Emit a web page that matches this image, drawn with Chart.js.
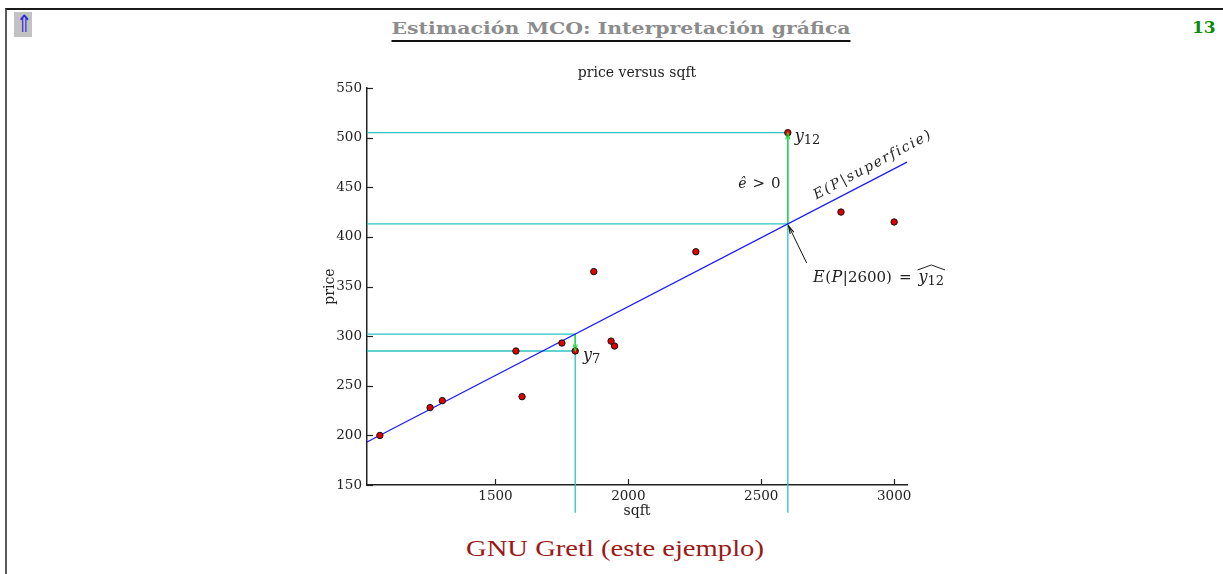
<!DOCTYPE html>
<html><head><meta charset="utf-8">
<script src="https://cdn.jsdelivr.net/npm/chart.js@4.4.1/dist/chart.umd.min.js"></script>
<style>
html,body{margin:0;padding:0;background:#fff;width:1223px;height:574px;overflow:hidden;position:relative}
#frame{position:absolute;left:5px;top:8px;width:1218px;height:566px;border-top:2px solid #1a1a1a;border-left:2px solid #5a5a5a}
#up{position:absolute;left:14px;top:12px;width:18px;height:25px;background:#c2c2c2;color:#2a2ae0;font:24px 'DejaVu Sans';line-height:25px;text-align:center;overflow:hidden}
#up span{display:inline-block;transform:scaleX(0.8)}
#title{position:absolute;left:20px;width:1203px;top:18px;text-align:center;font:bold 17px 'DejaVu Serif';color:#8c8c8c}
#title span{display:inline-block;border-bottom:2px solid #111;padding-bottom:2px;line-height:20px}
#num{position:absolute;left:1192px;top:17px;font:bold 17px 'DejaVu Serif';color:#0a8a0a}
#foot{position:absolute;left:6px;width:1217px;top:535px;text-align:center;font:24px 'Liberation Serif';color:#9a1a1a}
#foot span{display:inline-block}
#wrap{position:absolute;left:0;top:0;width:1223px;height:574px}
canvas{position:absolute;left:0;top:0}
</style></head>
<body>
<div id="frame"></div>
<div id="up"><span>⇑</span></div>
<div id="title"><span id="tspan">Estimación MCO: Interpretación gráfica</span></div>
<div id="num">13</div>
<div id="foot"><span id="fspan">GNU Gretl (este ejemplo)</span></div>
<div id="wrap"><canvas id="c" width="1223" height="574"></canvas></div>
<script>
// ---- data ----
const sqft  = [1065, 1254, 1300, 1577, 1600, 1750, 1800, 1870, 1935, 1948, 2254, 2600, 2800, 3000];
const price = [199.9, 228, 235, 285, 239, 293, 285, 365, 295, 290, 385, 505, 425, 415];
const xTicks = [1500, 2000, 2500, 3000];
const yTicks = [150, 200, 250, 300, 350, 400, 450, 500, 550];
const xRange = [1016.6, 3048.4];
const yRange = [150, 550];
const fitLine = [[1016.6, 193.4], [3048.4, 475.3]];          // E(P|superficie)
const guideH = [[505, 2600], [413.1, 2600], [302.1, 1800], [285, 1800]]; // [price, up to sqft]
const guideV = [[1800, 302.1, 122], [2600, 505, 122]];        // [sqft, from price, to price]
const residArrows = [[1800, 302.1, 285], [2600, 413.1, 505]]; // [sqft, from, to]
const pointerArrow = [[2671, 373.7], [2603, 411]];

// fit header/footer text widths to the reference
function fitWidth(id, w) { const el = document.getElementById(id); el.style.transform = 'scaleX(' + (w / el.offsetWidth) + ')'; }
fitWidth('tspan', 459); fitWidth('fspan', 298);

const cyan = '#2cc3c3', green = '#22dd33', blue = '#1a1aff';
const datasets = [{
  type: 'scatter', data: sqft.map((x, i) => ({x, y: price[i]})),
  backgroundColor: '#e00000', borderColor: '#111', borderWidth: 1, pointRadius: 3.2, order: 0
}];
datasets.push({type:'line', data: fitLine.map(p => ({x:p[0], y:p[1]})), borderColor: blue, borderWidth: 1.2, pointRadius: 0, order: 1, clip: false});
residArrows.forEach(a => datasets.push({type:'line', data:[{x:a[0],y:a[1]},{x:a[0],y:a[2]}], borderColor: green, borderWidth: 1.3, pointRadius:0, order: 2, clip:false}));
guideH.forEach(g => datasets.push({type:'line', data:[{x:xRange[0],y:g[0]},{x:g[1],y:g[0]}], borderColor: cyan, borderWidth: 1.3, pointRadius:0, order: 3, clip:false}));
guideV.forEach(g => datasets.push({type:'line', data:[{x:g[0],y:g[1]},{x:g[0],y:g[2]}], borderColor: cyan, borderWidth: 1.3, pointRadius:0, order: 3, clip:false}));

function arrowHead(ctx, x0, y0, x1, y1, color, len, ang) {
  const a = Math.atan2(y1 - y0, x1 - x0);
  ctx.save(); ctx.strokeStyle = color; ctx.lineWidth = 1.1;
  ctx.beginPath();
  ctx.moveTo(x1 - len * Math.cos(a - ang), y1 - len * Math.sin(a - ang));
  ctx.lineTo(x1, y1);
  ctx.lineTo(x1 - len * Math.cos(a + ang), y1 - len * Math.sin(a + ang));
  ctx.stroke(); ctx.restore();
}
function rich(ctx, x, y, parts) {
  ctx.save(); ctx.textBaseline = 'alphabetic'; ctx.textAlign = 'left'; ctx.fillStyle = '#222';
  let cx = x; const pos = [];
  parts.forEach(p => { ctx.font = p.f; const w = ctx.measureText(p.t).width; pos.push([cx, w]); ctx.fillText(p.t, cx, y + (p.dy || 0)); cx += w + (p.sp || 0); });
  ctx.restore(); return pos;
}
const SER = "'DejaVu Serif'";
const overlay = {
  id: 'overlay',
  afterDatasetsDraw(chart) {
    const {ctx, scales: {x, y}} = chart;
    const ca = chart.chartArea;
    // inward ticks
    ctx.save(); ctx.strokeStyle = '#222'; ctx.lineWidth = 1.2;
    xTicks.forEach(t => { const px = Math.round(x.getPixelForValue(t)) + 0.5; ctx.beginPath(); ctx.moveTo(px, ca.bottom); ctx.lineTo(px, ca.bottom - 6); ctx.stroke(); });
    yTicks.forEach(t => { const py = Math.round(y.getPixelForValue(t)) + 0.5; ctx.beginPath(); ctx.moveTo(ca.left, py); ctx.lineTo(ca.left + 6, py); ctx.stroke(); });
    ctx.restore();
    // arrow heads
    residArrows.forEach(a => arrowHead(ctx, x.getPixelForValue(a[0]), y.getPixelForValue(a[1]), x.getPixelForValue(a[0]), y.getPixelForValue(a[2]), green, 7, 0.3));
    const p0 = pointerArrow[0], p1 = pointerArrow[1];
    const ax0 = x.getPixelForValue(p0[0]), ay0 = y.getPixelForValue(p0[1]), ax1 = x.getPixelForValue(p1[0]), ay1 = y.getPixelForValue(p1[1]);
    ctx.save(); ctx.strokeStyle = '#111'; ctx.lineWidth = 1; ctx.beginPath(); ctx.moveTo(ax0, ay0); ctx.lineTo(ax1, ay1); ctx.stroke(); ctx.restore();
    arrowHead(ctx, ax0, ay0, ax1, ay1, '#111', 8, 0.25);
    // labels
    const it = 'italic 16px ' + SER, rm = '15px ' + SER, sb = '13px ' + SER;
    rich(ctx, x.getPixelForValue(2626), y.getPixelForValue(499.6) + 3, [{t:'y', f:it, sp:0}, {t:'12', f:sb, dy:3}]);
    rich(ctx, x.getPixelForValue(1829.5), y.getPixelForValue(279) + 3, [{t:'y', f:it}, {t:'7', f:sb, dy:3}]);
    rich(ctx, x.getPixelForValue(2413), y.getPixelForValue(454.3) + 5, [{t:'ê', f:'italic 14px ' + SER, sp:6}, {t:'>', f:rm, sp:6}, {t:'0', f:rm}]);
    const ps = rich(ctx, x.getPixelForValue(2695), y.getPixelForValue(359.6) + 5, [
      {t:'E', f:it, sp:0.5}, {t:'(', f:rm, sp:0.5}, {t:'P', f:it, sp:0.5}, {t:'|2600)', f:rm, sp:7}, {t:'=', f:rm, sp:7}, {t:'y', f:it}, {t:'12', f:sb, dy:3}]);
    const hx0 = ps[5][0] - 1, hx1 = ps[6][0] + ps[6][1] + 1, hy = y.getPixelForValue(359.6) - 10;
    ctx.save(); ctx.strokeStyle = '#222'; ctx.lineWidth = 1; ctx.beginPath();
    ctx.moveTo(hx0, hy + 3); ctx.lineTo((hx0 + hx1) / 2, hy - 2); ctx.lineTo(hx1, hy + 3); ctx.stroke(); ctx.restore();
    // rotated label along the fitted line
    ctx.save();
    ctx.translate(x.getPixelForValue(2920.8), y.getPixelForValue(472.4));
    ctx.rotate(-28 * Math.PI / 180);
    ctx.fillStyle = '#222'; ctx.textBaseline = 'middle'; ctx.textAlign = 'center';
    ctx.font = 'italic 14px ' + SER; ctx.letterSpacing = '1.8px';
    ctx.fillText('E(P|superficie)', 0, 0);
    ctx.restore();
  }
};

new Chart(document.getElementById('c'), {
  data: { datasets },
  options: {
    responsive: false, animation: false,
    layout: { padding: { left: 322, right: 316, top: 60, bottom: 54 } },
    plugins: {
      legend: { display: false }, tooltip: { enabled: false },
      title: { display: true, text: 'price versus sqft', fullSize: false, color: '#222', font: { family: SER, size: 14, weight: 'normal' }, padding: { top: 5.2, bottom: 6 } }
    },
    scales: {
      x: {
        type: 'linear', min: xRange[0], max: xRange[1],
        grid: { display: false, drawTicks: false }, border: { display: true, color: '#222', width: 1.5 },
        afterBuildTicks: s => { s.ticks = xTicks.map(v => ({value: v})); },
        afterFit: s => { s.height = 35; },
        ticks: { color: '#222', font: { family: SER, size: 13.5 }, padding: 3, maxRotation: 0, callback: v => String(v) },
        title: { display: true, text: 'sqft', color: '#222', font: { family: SER, size: 14 }, padding: 0 }
      },
      y: {
        type: 'linear', min: yRange[0], max: yRange[1],
        grid: { display: false, drawTicks: false }, border: { display: true, color: '#222', width: 1.5 },
        afterBuildTicks: s => { s.ticks = yTicks.map(v => ({value: v})); },
        afterFit: s => { s.width = 45; },
        ticks: { color: '#222', font: { family: SER, size: 13.5 }, padding: 5, callback: v => String(v) },
        title: { display: true, text: 'price', color: '#222', font: { family: SER, size: 14 }, padding: 0 }
      }
    }
  },
  plugins: [overlay]
});
</script>
</body></html>
